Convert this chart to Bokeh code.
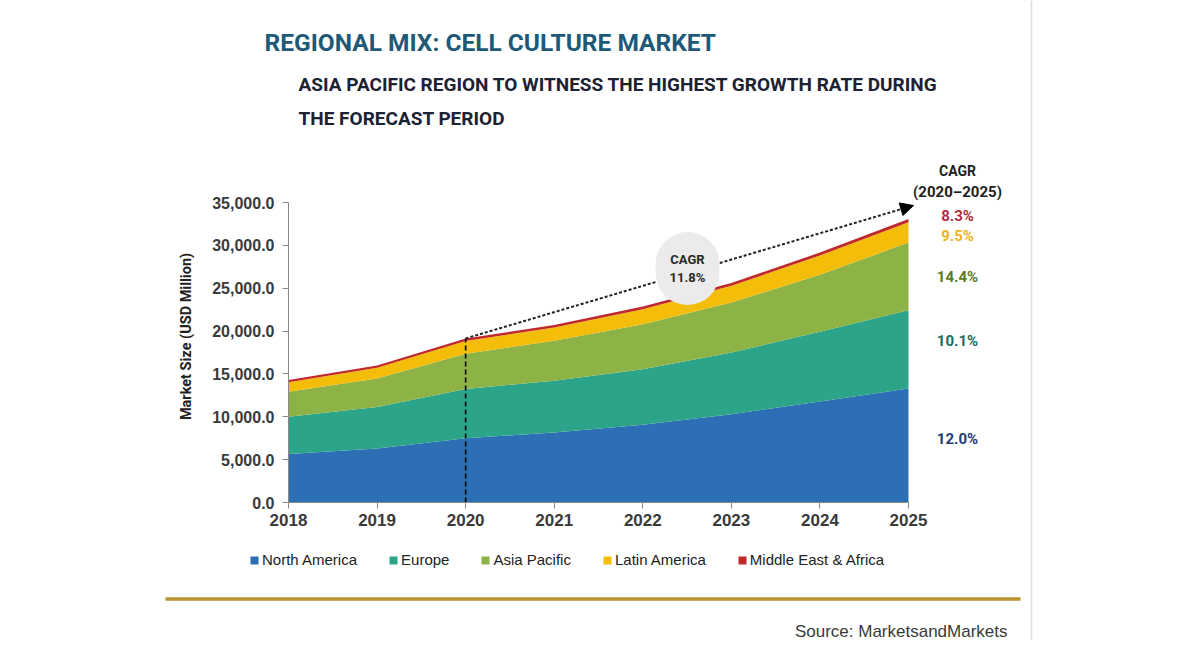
from bokeh.plotting import figure
from bokeh.models import (ColumnDataSource, Range1d, FixedTicker, NumeralTickFormatter,
                          Label, Arrow, NormalHead)
from bokeh.embed import file_html
from bokeh.resources import INLINE
import math

# ---------------- data ----------------
years = [2018, 2019, 2020, 2021, 2022, 2023, 2024, 2025]
north_america = [5650, 6300, 7500, 8170, 9060, 10300, 11780, 13300]
europe = [4340, 4850, 5750, 6030, 6500, 7200, 8130, 9140]
asia_pacific = [2930, 3330, 4100, 4670, 5250, 5830, 6650, 7890]
latin_america = [1120, 1240, 1500, 1560, 1750, 1950, 2250, 2360]
middle_east_africa = [240, 270, 290, 290, 300, 330, 350, 380]

regions = ["North America", "Europe", "Asia Pacific", "Latin America", "Middle East & Africa"]
region_colors = ["#2d6fb4", "#2ba48a", "#8db246", "#f4bd0a", "#c0282a"]
cagr_labels = ["12.0%", "10.1%", "14.4%", "9.5%", "8.3%"]
cagr_colors = ["#1f3d6e", "#1c6b63", "#5d7d22", "#f0b21c", "#b82a3c"]
overall_cagr = "11.8%"
base_year = 2020
y_ticks = [0, 5000, 10000, 15000, 20000, 25000, 30000, 35000]

# ---------------- layout constants (page px) ----------------
W, H = 1190, 640
FL, FR, FT, FB = 288, 908, 202, 502   # where 2018 / 2025 / 35000 / 0 sit on the page
X0, X1, Y0, Y1 = 2018, 2025, 0, 35000

def dx(px):
    return X0 + (px - FL) * (X1 - X0) / (FR - FL)

def dy(py):
    return Y0 + (FB - py) * (Y1 - Y0) / (FB - FT)

COND = "Roboto"
SANS = "Liberation Sans"

p = figure(width=W, height=H, x_range=Range1d(dx(0), dx(W)), y_range=Range1d(dy(H), dy(0)),
           output_backend="svg", toolbar_location=None,
           min_border_left=0, min_border_right=0, min_border_top=0, min_border_bottom=0)
p.outline_line_color = None
p.xgrid.visible = False
p.ygrid.visible = False
p.background_fill_color = "white"
p.border_fill_color = "white"

src = ColumnDataSource(dict(year=years, na=north_america, eu=europe, ap=asia_pacific,
                            la=latin_america, mea=middle_east_africa))
p.varea_stack(stackers=["na", "eu", "ap", "la", "mea"], x="year", color=region_colors,
              source=src, legend_label=regions)

# axes pinned at the data origin
xa, ya = p.xaxis[0], p.yaxis[0]
xa.fixed_location = Y0
ya.fixed_location = X0
xa.bounds = (X0, X1)
ya.bounds = (Y0, Y1)
for ax in (xa, ya):
    ax.axis_line_color = "#8a8a8a"
    ax.major_tick_line_color = "#8a8a8a"
    ax.minor_tick_line_color = None
    ax.major_tick_in = 0
    ax.major_tick_out = 6
    ax.major_label_text_font = SANS
    ax.major_label_text_font_style = "bold"
    ax.major_label_text_color = "#3a3a3a"
ya.ticker = FixedTicker(ticks=y_ticks)
ya.formatter = NumeralTickFormatter(format="0,0.0")
ya.major_label_text_font_size = "16px"
ya.major_label_standoff = 8
xa.ticker = FixedTicker(ticks=years)
xa.major_label_text_font_size = "17px"
xa.major_label_standoff = 5

# vertical dashed line at base year
i0 = years.index(base_year)
total_base = (north_america[i0] + europe[i0] + asia_pacific[i0]
              + latin_america[i0] + middle_east_africa[i0])
p.segment(x0=[base_year], y0=[0], x1=[base_year], y1=[total_base],
          line_color="black", line_width=1.6, line_dash="5 3")

# CAGR arrow
p.add_layout(Arrow(end=NormalHead(size=13, fill_color="black", line_color="black"),
                   x_start=base_year, y_start=total_base,
                   x_end=dx(913), y_end=dy(205),
                   line_color="#222222", line_width=2, line_dash="3 2"))

# bubble
p.add_layout(Label(x=dx(687), y=dy(268), text="CAGR\n" + overall_cagr,
                   text_align="center", text_baseline="middle",
                   text_font=COND, text_font_style="bold", text_font_size="13px",
                   text_color="#2a2a2a", background_fill_color="#ebebeb",
                   padding=(14, 20), border_radius=34))

# right-side CAGR labels
p.add_layout(Label(x=dx(957), y=dy(170), text="CAGR", text_align="center", text_baseline="middle",
                   text_font=COND, text_font_style="bold", text_font_size="14px", text_color="#1e1e1e"))
p.add_layout(Label(x=dx(957), y=dy(191), text="(2020\u20132025)", text_align="center",
                   text_baseline="middle", text_font=COND, text_font_style="bold",
                   text_font_size="15px", text_color="#1e1e1e"))
label_y = [438, 340, 276, 235, 215]
for txt, col, py in zip(cagr_labels, cagr_colors, label_y):
    p.add_layout(Label(x=dx(957), y=dy(py), text=txt, text_align="center", text_baseline="middle",
                       text_font=COND, text_font_style="bold", text_font_size="15px",
                       text_color=col))

# y axis title
p.add_layout(Label(x=dx(186), y=dy(336), text="Market Size (USD Million)", angle=math.pi / 2,
                   text_align="center", text_baseline="middle", text_font=COND,
                   text_font_style="bold", text_font_size="14.5px", text_color="#222222"))

# titles
p.add_layout(Label(x=dx(264), y=dy(42), text="REGIONAL MIX: CELL CULTURE MARKET",
                   text_align="left", text_baseline="middle", text_font=COND,
                   text_font_style="bold", text_font_size="24.5px", text_color="#1e5a78"))
p.add_layout(Label(x=dx(298), y=dy(84), text="ASIA PACIFIC REGION TO WITNESS THE HIGHEST GROWTH RATE DURING",
                   text_align="left", text_baseline="middle", text_font=COND,
                   text_font_style="bold", text_font_size="19px", text_color="#1b2232"))
p.add_layout(Label(x=dx(298), y=dy(118), text="THE FORECAST PERIOD",
                   text_align="left", text_baseline="middle", text_font=COND,
                   text_font_style="bold", text_font_size="19px", text_color="#1b2232"))

# legend
lg = p.legend[0]
lg.orientation = "horizontal"
lg.location = (249, H - 569.5)
lg.margin = 0
lg.padding = 0
lg.spacing = 31
lg.glyph_width = 10
lg.glyph_height = 10
lg.label_standoff = 3
lg.label_height = 20
lg.label_text_font = SANS
lg.label_text_font_size = "15px"
lg.label_text_color = "#222222"
lg.border_line_color = None
lg.background_fill_alpha = 0

# gold rule, source, grey divider
p.add_layout(Arrow(end=None, x_start=dx(165), y_start=dy(598.5), x_end=dx(1020), y_end=dy(598.5),
                   line_color="#b8942c", line_width=3.5))
p.add_layout(Label(x=dx(1007), y=dy(631), text="Source: MarketsandMarkets", text_align="right",
                   text_baseline="middle", text_font=SANS, text_font_size="17px",
                   text_color="#3a3a3a"))
p.add_layout(Arrow(end=None, x_start=dx(1031), y_start=dy(0), x_end=dx(1031), y_end=dy(H),
                   line_color="#dcdcdc", line_width=1.5))

open("out.html", "w").write(file_html(p, INLINE))
